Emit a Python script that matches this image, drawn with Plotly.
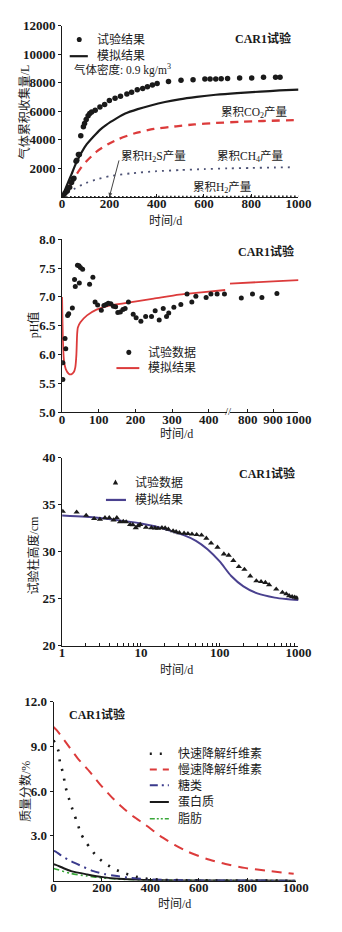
import plotly.graph_objects as go

W, H = 342, 932

# ---------------- Panel 1: cumulative gas ----------------
gas_exp_t = [5, 12, 20, 23, 32, 40, 46, 50, 59, 62, 69, 73, 79, 90, 95, 102, 110, 117, 125, 140,
             160, 180, 200, 224, 247, 274, 294, 318, 341, 361, 382, 402, 450, 503, 554, 604, 626,
             650, 673, 700, 751, 802, 852, 903, 922]
gas_exp_v = [100, 250, 400, 480, 670, 1000, 1240, 1310, 2500, 2570, 2966, 2980, 4280, 4920, 5150,
             5425, 5680, 5840, 5950, 6070, 6300, 6480, 6760, 6920, 7060, 7220, 7330, 7517, 7600,
             7720, 7840, 7950, 8090, 8170, 8210, 8260, 8260, 8270, 8280, 8300, 8340, 8340, 8380,
             8380, 8380]
gas_sim_t = [0, 20, 40, 60, 80, 100, 133, 160, 187, 230, 267, 320, 375, 435, 496, 570, 650, 740,
             839, 920, 1000]
gas_sim_v = [0, 800, 1600, 2400, 3050, 3600, 4230, 4700, 5050, 5500, 5840, 6150, 6410, 6650, 6840,
             7010, 7160, 7280, 7380, 7460, 7520]
co2_t = [0, 20, 40, 60, 80, 100, 147, 200, 241, 308, 388, 483, 560, 650, 750, 850, 1000]
co2_v = [0, 450, 1000, 1550, 2050, 2450, 3190, 3750, 4070, 4460, 4760, 4950, 5080, 5180, 5260,
         5320, 5390]
ch4_t = [0, 20, 50, 90, 150, 200, 290, 400, 500, 600, 700, 800, 900, 980]
ch4_v = [0, 250, 550, 900, 1250, 1450, 1650, 1800, 1880, 1950, 2000, 2030, 2060, 2080]
h2_t = [0, 200, 400, 600, 800, 1000]
h2_v = [0, 20, 30, 35, 38, 40]
gas_xticks = [0, 200, 400, 600, 800, 1000]
gas_yticks = [2000, 4000, 6000, 8000, 10000, 12000]

# ---------------- Panel 2: pH ----------------
ph_exp_t = [2, 2, 8, 10, 15, 18, 28, 34, 36, 42, 46, 47, 50, 56, 75, 84, 90, 97, 107, 114, 120,
            126, 133, 140, 146, 152, 159, 166, 172, 181, 194, 202, 215, 228, 244, 254, 265, 276,
            285, 291, 305, 324, 341, 354, 365, 393, 406, 423, 443, 775, 819, 856, 915]
ph_exp_v = [5.57, 5.86, 6.28, 6.10, 6.68, 6.71, 6.81, 7.30, 7.18, 7.55, 7.54, 7.24, 7.51, 7.48,
            7.22, 7.34, 6.91, 6.86, 6.77, 6.85, 6.87, 6.89, 6.88, 6.84, 6.83, 6.73, 6.74, 6.78,
            6.80, 6.91, 6.70, 6.64, 6.58, 6.66, 6.66, 6.76, 6.60, 6.80, 6.66, 6.72, 6.82, 6.87,
            7.05, 6.91, 7.01, 6.99, 7.05, 7.05, 7.05, 6.98, 7.05, 6.99, 7.06]
ph_sim_t = [0, 2, 5, 10, 18, 25, 32, 36, 39, 41, 43, 50, 68, 94, 129, 198, 250, 319, 380, 445]
ph_sim_v = [7.0, 6.3, 5.9, 5.75, 5.67, 5.66, 5.7, 5.78, 6.0, 6.35, 6.47, 6.56, 6.68, 6.78, 6.85,
            6.92, 6.97, 7.04, 7.08, 7.12]
ph_sim2_t = [730, 800, 900, 1000]
ph_sim2_v = [7.23, 7.25, 7.27, 7.29]
ph_xticks_left = [0, 100, 200, 300, 400]
ph_xticks_right = [800, 900, 1000]
ph_yticks = [5.0, 5.5, 6.0, 6.5, 7.0, 7.5, 8.0]

# ---------------- Panel 3: column height ----------------
h_exp_t = [1.02, 1.53, 2.02, 2.55, 3.02, 3.5, 3.97, 4.5, 4.95, 5.43, 5.97, 6.5, 7.3, 7.9, 8.6,
           9.2, 9.8, 11.6, 13.6, 15.1, 16.5, 18.5, 20.3, 22.3, 25.6, 28, 30.8, 35.3, 39.5, 44.5,
           51, 58.8, 67.7, 77.8, 93.8, 113, 130, 149, 175, 206, 244, 292, 335, 380, 424, 522,
           625, 700, 760, 830, 895, 950]
h_exp_v = [34.27, 34.2, 33.85, 33.5, 33.44, 33.6, 33.6, 33.35, 33.6, 33.16, 33.2, 33.15, 32.88,
           32.85, 32.53, 32.75, 32.88, 32.57, 32.53, 32.5, 32.47, 32.53, 32.5, 32.37, 32.2, 32.1,
           32.0, 31.95, 31.9, 31.85, 31.8, 31.75, 31.41, 30.9, 30.45, 29.74, 29.6, 29.04, 28.4,
           28.1, 27.4, 26.88, 26.8, 26.7, 26.46, 26.0, 25.65, 25.5, 25.3, 25.2, 25.13, 25.06]
h_sim_t = [1, 2, 5, 10, 15, 25, 35, 50, 70, 100, 140, 200, 300, 500, 700, 1000]
h_sim_v = [33.85, 33.7, 33.35, 33.0, 32.7, 32.15, 31.75, 31.15, 30.25, 28.95, 27.4, 26.3, 25.55,
           25.1, 24.95, 24.85]
h_xticks = [1, 10, 100, 1000]
h_yticks = [20, 25, 30, 35, 40]

# ---------------- Panel 4: mass fractions ----------------
fast_t = [0, 13, 21, 27, 41, 47, 58, 73, 87, 97, 113, 132, 152, 178, 211, 250, 289, 329, 380,
          450, 550, 650, 750, 850, 950, 1000]
fast_v = [9.4, 9.0, 8.66, 7.89, 7.12, 6.46, 5.8, 5.03, 4.37, 3.93, 3.16, 2.62, 2.18, 1.63, 1.19,
          0.79, 0.53, 0.31, 0.15, 0.06, 0.03, 0.02, 0.01, 0.01, 0.0, 0.0]
slow_t = [0, 13, 54, 99, 150, 192, 240, 284, 330, 380, 440, 500, 552, 631, 710, 789, 894, 992]
slow_v = [10.3, 10.09, 9.2, 8.22, 7.3, 6.46, 5.6, 4.92, 4.3, 3.75, 3.0, 2.4, 1.96, 1.47, 1.12,
          0.86, 0.64, 0.46]
sugar_t = [0, 7, 40, 73, 120, 165, 210, 262, 320, 400, 600, 800, 1000]
sugar_v = [2.0, 1.96, 1.6, 1.3, 0.95, 0.64, 0.45, 0.31, 0.18, 0.08, 0.02, 0.01, 0.0]
protein_t = [0, 7, 40, 73, 139, 204, 270, 350, 500, 700, 1000]
protein_v = [1.1, 1.08, 0.85, 0.64, 0.42, 0.24, 0.13, 0.06, 0.02, 0.01, 0.0]
lipid_t = [0, 7, 73, 139, 204, 290, 400, 600, 800, 1000]
lipid_v = [0.82, 0.79, 0.48, 0.31, 0.18, 0.09, 0.04, 0.02, 0.01, 0.0]
mf_xticks = [0, 200, 400, 600, 800, 1000]
mf_yticks = [3.0, 6.0, 9.0, 12.0]

# ---------------- styling helpers ----------------
SERIF = "Liberation Serif, Noto Sans CJK SC, serif"
CJK = "Liberation Serif, Noto Sans CJK SC, sans-serif"
INK = "#1a1a1a"
TICKFONT = dict(family=SERIF, size=13, color=INK, weight="bold")
TXT = dict(family=CJK, size=12, color=INK)
TXTB = dict(family=CJK, size=12, color=INK, weight="bold")
RED = "#dc3b3b"
PURPLE = "#4a418f"
BLUE = "#3a3a8c"
GREEN = "#3aa83a"
SMOOTH = dict(shape="spline", smoothing=0.6)


def fx(px):
    return px / W


def fy(py):
    return 1 - py / H


def axis(dom, **kw):
    d = dict(domain=dom, showline=True, linecolor=INK, linewidth=1, showgrid=False,
             zeroline=False, ticks="outside", ticklen=3, tickwidth=1, tickcolor=INK,
             tickfont=TICKFONT)
    d.update(kw)
    return d


def xaxis(dom, **kw):
    return axis(dom, ticks="inside", ticklen=3, ticklabelstandoff=-5, **kw)


fig = go.Figure()

# panel 1 traces
fig.add_trace(go.Scatter(x=h2_t, y=h2_v, mode="lines", xaxis="x", yaxis="y",
                         line=dict(color=INK, width=1.5, dash="1.5px,2.5px")))
fig.add_trace(go.Scatter(x=ch4_t, y=ch4_v, mode="lines", xaxis="x", yaxis="y",
                         line=dict(color="#4d5275", width=1.8, dash="2px,5px", **SMOOTH)))
fig.add_trace(go.Scatter(x=co2_t, y=co2_v, mode="lines", xaxis="x", yaxis="y",
                         line=dict(color=RED, width=2.3, dash="8px,6px", **SMOOTH)))
fig.add_trace(go.Scatter(x=gas_sim_t, y=gas_sim_v, mode="lines", xaxis="x", yaxis="y",
                         line=dict(color=INK, width=2.2, **SMOOTH)))
fig.add_trace(go.Scatter(x=gas_exp_t, y=gas_exp_v, mode="markers", xaxis="x", yaxis="y",
                         marker=dict(color=INK, size=5.5)))

# panel 2 traces (broken x axis)
left_t = [t for t in ph_exp_t if t <= 450]
left_v = [v for t, v in zip(ph_exp_t, ph_exp_v) if t <= 450]
right_t = [t for t in ph_exp_t if t > 450]
right_v = [v for t, v in zip(ph_exp_t, ph_exp_v) if t > 450]
fig.add_trace(go.Scatter(x=ph_sim_t, y=ph_sim_v, mode="lines", xaxis="x2", yaxis="y2",
                         line=dict(color=RED, width=1.8, shape="spline", smoothing=0.6)))
fig.add_trace(go.Scatter(x=ph_sim2_t, y=ph_sim2_v, mode="lines", xaxis="x3", yaxis="y2",
                         line=dict(color=RED, width=1.8)))
fig.add_trace(go.Scatter(x=left_t, y=left_v, mode="markers", xaxis="x2", yaxis="y2",
                         marker=dict(color=INK, size=5)))
fig.add_trace(go.Scatter(x=right_t, y=right_v, mode="markers", xaxis="x3", yaxis="y2",
                         marker=dict(color=INK, size=5)))

# panel 3 traces
fig.add_trace(go.Scatter(x=h_sim_t, y=h_sim_v, mode="lines", xaxis="x4", yaxis="y3",
                         line=dict(color=PURPLE, width=2, shape="spline", smoothing=0.8)))
fig.add_trace(go.Scatter(x=h_exp_t, y=h_exp_v, mode="markers", xaxis="x4", yaxis="y3",
                         marker=dict(color=INK, size=5.5, symbol="triangle-up")))

# panel 4 traces
fig.add_trace(go.Scatter(x=lipid_t, y=lipid_v, mode="lines", xaxis="x5", yaxis="y4",
                         line=dict(color=GREEN, width=1.6, dash="6px,3px,2px,3px,2px,3px",
                                   **SMOOTH)))
fig.add_trace(go.Scatter(x=protein_t, y=protein_v, mode="lines", xaxis="x5", yaxis="y4",
                         line=dict(color=INK, width=2, **SMOOTH)))
fig.add_trace(go.Scatter(x=sugar_t, y=sugar_v, mode="lines", xaxis="x5", yaxis="y4",
                         line=dict(color=BLUE, width=2, dash="9px,5px,2px,5px", **SMOOTH)))
fig.add_trace(go.Scatter(x=slow_t, y=slow_v, mode="lines", xaxis="x5", yaxis="y4",
                         line=dict(color=RED, width=2, dash="10px,7px", **SMOOTH)))
fig.add_trace(go.Scatter(x=fast_t, y=fast_v, mode="lines", xaxis="x5", yaxis="y4",
                         line=dict(color=INK, width=2.6, dash="2px,8px", **SMOOTH)))

minor_log = [m * 10 ** k for k in range(3) for m in range(2, 10)]

fig.update_layout(
    width=W, height=H, margin=dict(l=0, r=0, t=0, b=0),
    paper_bgcolor="white", plot_bgcolor="white", showlegend=False,
    xaxis=xaxis([fx(62), fx(310)], anchor="y", range=[0, 1000], tickvals=gas_xticks),
    yaxis=axis([fy(193), fy(19)], anchor="x", range=[0, 12000], tickvals=gas_yticks,
               tickformat="d"),
    xaxis2=xaxis([fx(62), fx(235)], anchor="y2", range=[0, 450], tickvals=ph_xticks_left),
    xaxis3=xaxis([fx(238), fx(310)], anchor="y2", range=[730, 1000], tickvals=ph_xticks_right),
    yaxis2=axis([fy(412), fy(236)], anchor="x2", range=[5, 8], tickvals=ph_yticks,
                tickformat=".1f"),
    xaxis4=xaxis([fx(62), fx(310)], anchor="y3", type="log", range=[0, 3], tickvals=h_xticks,
                 minor=dict(tickvals=minor_log, ticks="inside", ticklen=2.5, tickcolor=INK)),
    yaxis3=axis([fy(649), fy(458)], anchor="x4", range=[20, 40], tickvals=h_yticks),
    xaxis5=xaxis([fx(53), fx(307)], anchor="y4", range=[0, 1000], tickvals=mf_xticks),
    yaxis4=axis([fy(888), fy(706)], anchor="x5", range=[0, 12], tickvals=mf_yticks,
                tickformat=".1f"),
)

ann = []


def text(px, py, s, font=TXT, xanchor="left", angle=0):
    ann.append(dict(x=fx(px), y=fy(py), xref="paper", yref="paper", text=s, showarrow=False,
                    xanchor=xanchor, yanchor="middle", font=font, textangle=angle))


shapes = []


def seg(x0, x1, py, color, width, dash="solid"):
    shapes.append(dict(type="line", xref="paper", yref="paper", x0=fx(x0), x1=fx(x1),
                       y0=fy(py), y1=fy(py), line=dict(color=color, width=width, dash=dash)))


def dot(px, py, r):
    shapes.append(dict(type="circle", xref="paper", yref="paper", x0=fx(px - r), x1=fx(px + r),
                       y0=fy(py + r), y1=fy(py - r), fillcolor=INK, line=dict(width=0)))


def tri(px, py, r):
    path = "M {} {} L {} {} L {} {} Z".format(fx(px - r), fy(py + r * 0.8), fx(px + r),
                                            fy(py + r * 0.8), fx(px), fy(py - r))
    shapes.append(dict(type="path", xref="paper", yref="paper", path=path, fillcolor=INK,
                       line=dict(width=0)))


SMALL = dict(family=CJK, size=11.5, color=INK)

# panel 1 texts
dot(80, 33, 2.6)
text(97, 33, "试验结果")
seg(70, 89, 50, INK, 2.2)
text(97, 50, "模拟结果")
text(72, 64, "气体密度: 0.9 kg/m<sup>3</sup>", font=SMALL)
text(304, 32, "CAR1试验", font=TXTB, xanchor="right")
text(227, 107, "累积CO<sub>2</sub>产量", font=SMALL)
text(122, 152, "累积H<sub>2</sub>S产量", font=SMALL)
text(222, 152, "累积CH<sub>4</sub>产量", font=SMALL)
text(197, 183, "累积H<sub>2</sub>产量", font=SMALL)
text(22, 106, "气体累积收集量/L", font=TXT, xanchor="center", angle=-90)
text(170, 217, "时间/d", font=TXT, xanchor="center")
ann.append(dict(x=200, y=0, xref="x", yref="y", ax=10, ay=-38, axref="pixel", ayref="pixel",
                text="", showarrow=True, arrowhead=2, arrowsize=0.8, arrowwidth=1,
                arrowcolor="#444"))

# panel 2 texts
text(307, 249, "CAR1试验", font=TXTB, xanchor="right")
dot(132, 351, 2.6)
text(150, 351, "试验数据")
seg(119, 143, 367, RED, 2)
text(150, 367, "模拟结果")
text(32, 323, "pH值", font=TXT, xanchor="center", angle=-90)
text(182, 434, "时间/d", font=TXT, xanchor="center")
text(236.5, 411, "//", font=dict(family=SERIF, size=11, color=INK), xanchor="center")

# panel 3 texts
text(308, 474, "CAR1试验", font=TXTB, xanchor="right")
tri(118, 483, 2.8)
text(136, 483, "试验数据")
seg(108, 129, 501, PURPLE, 2.2)
text(136, 501, "模拟结果")
text(32, 557, "试验柱高度/cm", font=TXT, xanchor="center", angle=-90)
text(182, 674, "时间/d", font=TXT, xanchor="center")

# panel 4 texts
text(67, 719, "CAR1试验", font=TXTB)
leg_y = [759, 775, 791, 808, 825]
seg(154, 173, leg_y[0], INK, 2.6, "2px,8px")
text(182, leg_y[0], "快速降解纤维素")
seg(154, 174, leg_y[1], RED, 2, "7px,6px")
text(182, leg_y[1], "慢速降解纤维素")
seg(154, 174, leg_y[2], BLUE, 2, "8px,4px,2px,4px")
text(182, leg_y[2], "糖类")
seg(154, 174, leg_y[3], INK, 2)
text(182, leg_y[3], "蛋白质")
seg(154, 174, leg_y[4], GREEN, 1.6, "5px,2px,2px,2px,2px,2px")
text(182, leg_y[4], "脂肪")
text(23, 797, "质量分数/%", font=TXT, xanchor="center", angle=-90)
text(180, 912, "时间/d", font=TXT, xanchor="center")

fig.update_layout(annotations=ann, shapes=shapes)
fig.write_html("out.html")
